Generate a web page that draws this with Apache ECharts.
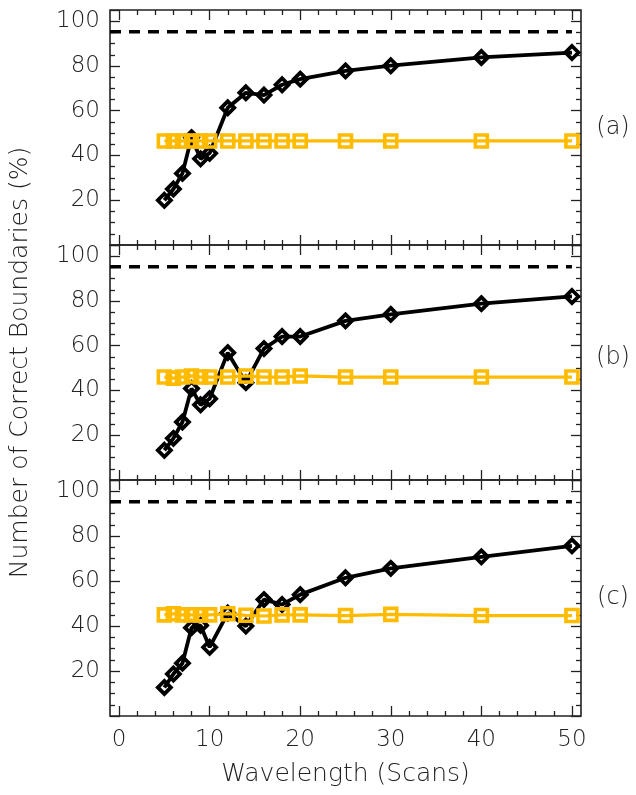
<!DOCTYPE html>
<html>
<head>
<meta charset="utf-8">
<script src="https://cdn.jsdelivr.net/npm/echarts@6/dist/echarts.min.js"></script>
<style>html,body{margin:0;padding:0;background:#fff}#c{width:636px;height:795px}</style>
</head>
<body>
<div id="c"></div>
<script>
// ---- data ----
const waves = [5, 6, 7, 8, 9, 10, 12, 14, 16, 18, 20, 25, 30, 40, 50];
const aBlack  = [20, 25, 32, 48, 38.5, 41, 61.3, 68, 67, 71.6, 74.1, 77.8, 80.1, 83.8, 86];
const aYellow = [46.5, 46.5, 46.5, 46.5, 46.5, 46.5, 46.5, 46.5, 46.5, 46.5, 46.5, 46.5, 46.5, 46.5, 46.5];
const bBlack  = [13.3, 18.6, 25.9, 40.9, 33.6, 36.3, 56.9, 43.5, 58.7, 64.1, 64.1, 71.1, 74, 78.8, 82];
const bYellow = [46, 45.5, 46, 46.5, 46, 46, 46, 46.5, 46, 46, 46.5, 46, 46, 46, 46];
const cBlack  = [12.7, 18.7, 23.5, 39.3, 40.3, 30.6, 45.8, 40, 51.8, 49.6, 54, 61.5, 65.7, 70.8, 75.7];
const cYellow = [45, 45.5, 45, 45, 45, 45, 45.5, 44.8, 44.5, 45, 45, 44.7, 45.2, 44.7, 44.7];
const refLevel = 95.3;
const refX = [-1, 50];
const xMajorTicks = [0, 10, 20, 30, 40, 50];
const xMinorTicks = [2, 4, 6, 8, 12, 14, 16, 18, 22, 24, 26, 28, 32, 34, 36, 38, 42, 44, 46, 48];
const panelLabels = ['(a)', '(b)', '(c)'];

const panels = [
  { black: aBlack, yellow: aYellow },
  { black: bBlack, yellow: bYellow },
  { black: cBlack, yellow: cYellow }
];

const FONT = 'DejaVu Sans';
const TXT = '#222';
const AX = '#222';
const YEL = '#FFBB00';

const gridTops = [10, 245, 480];
const gridH = [235, 235, 236];

const grid = [], xAxis = [], yAxis = [], series = [];
const zip = (xs, ys) => xs.map((x, i) => [x, ys[i]]);

panels.forEach((p, gi) => {
  grid.push({ left: 110, width: 471, top: gridTops[gi], height: gridH[gi],
    show: true, borderColor: AX, borderWidth: 1.6, backgroundColor: 'transparent' });
  const last = gi === 2;
  const baseX = (pos, vals, len, labels) => ({
    type: 'value', gridIndex: gi, position: pos, min: -1, max: 51,
    axisLine: { show: false, onZero: false }, splitLine: { show: false },
    axisTick: { show: true, inside: true, length: len, customValues: vals, lineStyle: { color: AX, width: 1.3 } },
    axisLabel: labels ? { show: true, customValues: vals, fontFamily: FONT, fontWeight: 200, fontSize: 23, color: TXT, margin: 13 } : { show: false }
  });
  const xm = baseX('bottom', xMajorTicks, 10, last);
  if (last) {
    xm.name = 'Wavelength (Scans)';
    xm.nameLocation = 'middle';
    xm.nameGap = 46;
    xm.nameTextStyle = { fontFamily: FONT, fontWeight: 200, fontSize: 25, color: TXT };
  }
  xAxis.push(xm);
  xAxis.push(baseX('bottom', xMinorTicks, 5, false));
  xAxis.push(baseX('top', xMajorTicks, 10, false));
  xAxis.push(baseX('top', xMinorTicks, 5, false));
  const baseY = (pos, labels) => ({
    type: 'value', gridIndex: gi, position: pos, min: 0, max: 105, interval: 20,
    axisLine: { show: false, onZero: false }, splitLine: { show: false },
    axisTick: { show: true, inside: true, length: 10, lineStyle: { color: AX, width: 1.3 } },
    minorTick: { show: true, splitNumber: 4, length: 5, lineStyle: { color: AX, width: 1.3 } },
    axisLabel: labels ? { show: true, fontFamily: FONT, fontWeight: 200, fontSize: 23, color: TXT, margin: 10,
      formatter: v => (v > 0 && v % 20 === 0) ? String(v) : '' } : { show: false }
  });
  const yl = baseY('left', true);
  if (gi === 1) {
    yl.name = 'Number of Correct Boundaries (%)';
    yl.nameLocation = 'middle';
    yl.nameGap = 77;
    yl.nameRotate = 90;
    yl.nameTextStyle = { fontFamily: FONT, fontWeight: 200, fontSize: 25, color: TXT };
  }
  yAxis.push(yl);
  yAxis.push(baseY('right', false));

  const xi = gi * 4, yi = gi * 2;
  series.push({
    type: 'line', xAxisIndex: xi, yAxisIndex: yi, data: zip(refX, [refLevel, refLevel]),
    symbol: 'none', clip: false, lineStyle: { color: '#000', width: 3.5, type: [11, 8] }, silent: true, z: 2
  });
  series.push({
    type: 'line', xAxisIndex: xi, yAxisIndex: yi, data: zip(waves, p.black),
    symbol: 'diamond', symbolSize: 13, clip: false,
    lineStyle: { color: '#000', width: 3.8 },
    itemStyle: { color: 'rgba(255,255,255,0)', borderColor: '#000', borderWidth: 3.8 }, z: 3
  });
  series.push({
    type: 'line', xAxisIndex: xi, yAxisIndex: yi, data: zip(waves, p.yellow),
    symbol: 'rect', symbolSize: 12, clip: false,
    lineStyle: { color: YEL, width: 3.2 },
    itemStyle: { color: 'rgba(255,255,255,0)', borderColor: YEL, borderWidth: 3.6 }, z: 4
  });
});

const labelY = [128, 358, 598];
const graphic = panelLabels.map((t, i) => ({
  type: 'text', x: 613, y: labelY[i],
  style: { text: t, fontFamily: FONT, fontWeight: 200, fontSize: 24, fill: TXT, align: 'center', verticalAlign: 'middle' }
}));

const chart = echarts.init(document.getElementById('c'), null, { renderer: 'canvas' });
chart.setOption({ animation: false, backgroundColor: '#fff', grid, xAxis, yAxis, series, graphic });
</script>
</body>
</html>
